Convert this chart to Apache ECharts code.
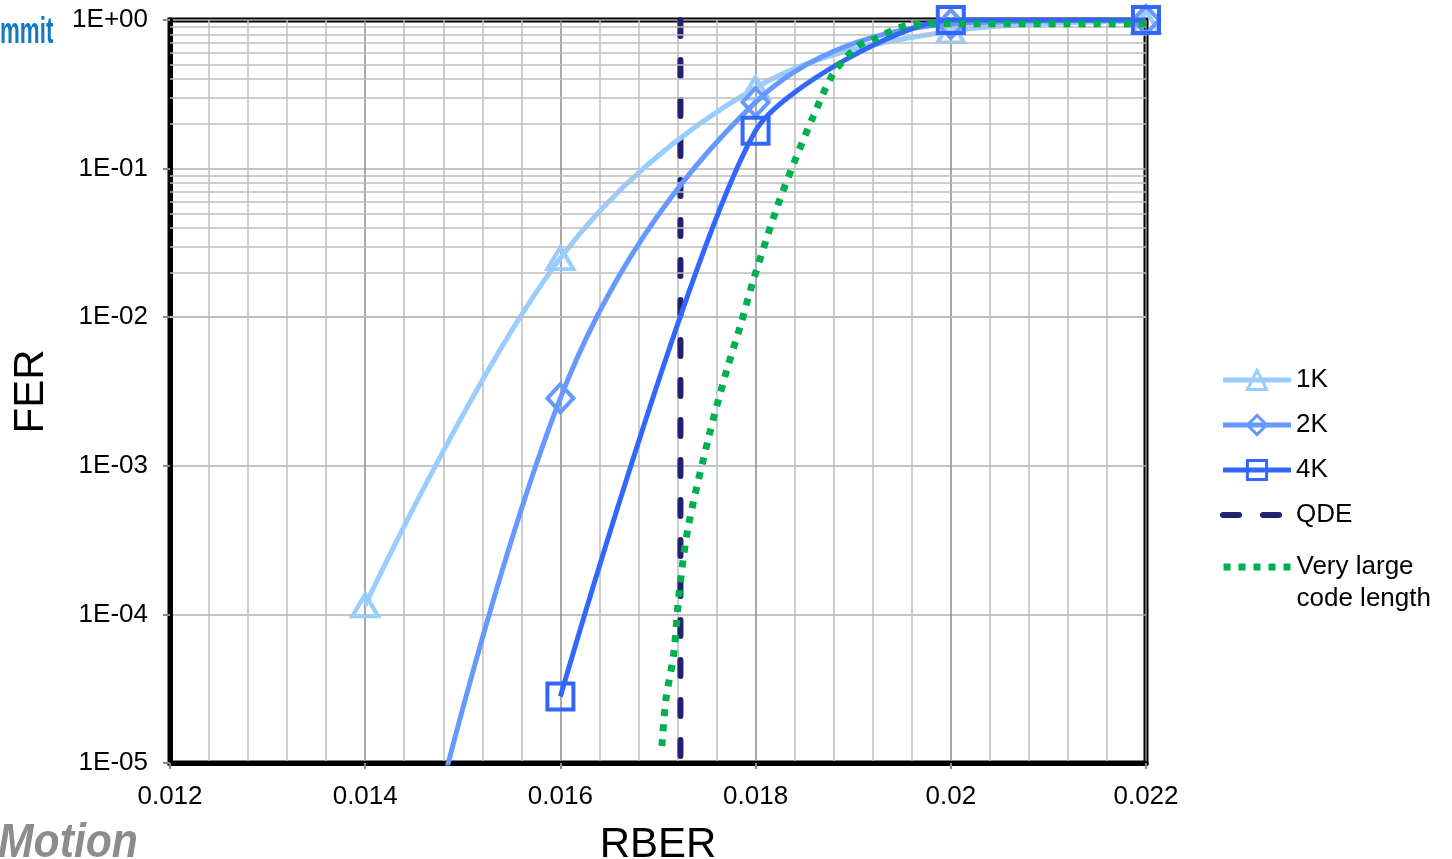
<!DOCTYPE html>
<html><head><meta charset="utf-8">
<script src="https://cdn.jsdelivr.net/npm/echarts@6/dist/echarts.min.js"></script>
<style>html,body{margin:0;padding:0;background:#fff;overflow:hidden}#c{width:1452px;height:859px}</style>
</head><body><div id="c"></div>
<script>
// ---- data ----
const xTickLabels = ['0.012', '0.014', '0.016', '0.018', '0.02', '0.022'];
const yTickLabels = ['1E-05', '1E-04', '1E-03', '1E-02', '1E-01', '1E+00'];

const rber1K = [0.014, 0.016, 0.018, 0.020, 0.022];
const fer1K  = [1.15e-4, 0.025, 0.35, 0.84, 0.98];

const rber2K = [0.014, 0.016, 0.018, 0.020, 0.022];
const fer2K  = [5e-8, 2.85e-3, 0.28, 0.94, 1.0];

const rber4K = [0.016, 0.018, 0.020, 0.022];
const fer4K  = [2.8e-5, 0.18, 1.0, 1.0];

const rberQDE = [0.01723, 0.01723];
const ferQDE  = [1, 1e-5];

const rberLarge = [0.01704, 0.01708, 0.01716, 0.01722, 0.01731, 0.01753, 0.01770, 0.01784, 0.01798, 0.01822, 0.01839, 0.01859, 0.01880, 0.01904, 0.01920, 0.01960, 0.02000, 0.02100, 0.02214];
const ferLarge  = [1.3e-5, 2.65e-5, 5.4e-5, 1.46e-4, 3.9e-4, 1.66e-3, 4.3e-3, 8.6e-3, 1.8e-2, 5.5e-2, 0.108, 0.224, 0.44, 0.66, 0.74, 0.93, 0.945, 0.945, 0.945];

const seriesNames = ['1K', '2K', '4K', 'QDE', 'Very large code length'];

// ---- helpers ----
const zip = (xs, ys) => xs.map((x, i) => [x, ys[i]]);
const X_MIN = 0.012, X_MAX = 0.022, X_INT = 0.002;
const Y_MIN = 1e-5, Y_MAX = 1;
const minorY = [];
for (let e = -5; e < 0; e++) for (let k = 2; k <= 9; k++) minorY.push(k * Math.pow(10, e));

const FONT = "'Liberation Sans', Arial, sans-serif";
const C1 = '#99CCFF', C2 = '#6699FF', C4 = '#3366FF', CQ = '#22236E', CG = '#00B050';
const LW = 5, BW = 4;

const chart = echarts.init(document.getElementById('c'), null, {renderer: 'canvas'});

const hollow = (c) => ({color: 'rgba(0,0,0,0)', borderColor: c, borderWidth: BW});
const legText = {fontFamily: FONT, fontSize: 26, color: '#000', lineHeight: 30};

const option = {
  animation: false,
  backgroundColor: '#fff',
  grid: {left: 170, right: 306, top: 20, bottom: 96, containLabel: false, outerBoundsMode: 'none',
         show: true, borderColor: '#000', borderWidth: 5, backgroundColor: 'rgba(0,0,0,0)'},
  xAxis: {
    type: 'value', min: X_MIN, max: X_MAX, interval: X_INT,
    name: 'RBER', nameLocation: 'middle', nameGap: 61,
    nameTextStyle: {fontFamily: FONT, fontSize: 42, color: '#000'},
    axisLine: {show: true, lineStyle: {color: '#000', width: 5}},
    axisTick: {show: true, length: 6, lineStyle: {color: '#888', width: 2}},
    axisLabel: {fontFamily: FONT, fontSize: 26, color: '#000', margin: 21,
      formatter: (v) => xTickLabels[Math.round((v - X_MIN) / X_INT)] || ''},
    splitLine: {show: true, lineStyle: {color: '#8c8c8c', width: 1.5}},
    minorTick: {show: false, splitNumber: 5},
    minorSplitLine: {show: true, lineStyle: {color: '#bdbdbd', width: 1.5}}
  },
  yAxis: {
    type: 'log', logBase: 10, min: Y_MIN, max: Y_MAX,
    name: 'FER', nameLocation: 'middle', nameGap: 118, nameRotate: 90,
    nameTextStyle: {fontFamily: FONT, fontSize: 42, color: '#000'},
    axisLine: {show: true, lineStyle: {color: '#000', width: 5}},
    axisTick: {show: true, length: 7, lineStyle: {color: '#888', width: 2}},
    axisLabel: {fontFamily: FONT, fontSize: 26, color: '#000', margin: 22,
      formatter: (v) => yTickLabels[Math.round(Math.log10(v)) + 5] || ''},
    splitLine: {show: true, lineStyle: {color: '#b0b0b0', width: 1.5}},
    minorSplitLine: {show: false}
  },
  legend: [
    {
      data: [
        {name: seriesNames[0], lineStyle: {width: LW}, itemStyle: {borderWidth: 3}},
        {name: seriesNames[1], lineStyle: {width: LW}, itemStyle: {borderWidth: 3}},
        {name: seriesNames[2], lineStyle: {width: LW}, itemStyle: {borderWidth: 3}},
        {name: seriesNames[3], lineStyle: {width: 6}, itemStyle: {color: 'rgba(0,0,0,0)', borderWidth: 0}}
      ],
      orient: 'vertical', left: 1220, top: 365, padding: 0,
      itemWidth: 68, itemHeight: 24, itemGap: 15,
      textStyle: legText,
      selectedMode: false
    },
    {
      data: [{name: seriesNames[4], lineStyle: {width: 7}, itemStyle: {color: 'rgba(0,0,0,0)', borderWidth: 0}}],
      orient: 'vertical', left: 1220, top: 519, padding: 0,
      itemWidth: 68, itemHeight: 24,
      formatter: () => '\nVery large\ncode length',
      textStyle: {fontFamily: FONT, fontSize: 26, color: '#000', lineHeight: 32},
      selectedMode: false
    }
  ],
  series: [
    {
      type: 'line', name: '_grid', data: [], silent: true, z: -1,
      markLine: {
        silent: true, symbol: 'none', label: {show: false}, animation: false,
        lineStyle: {color: '#bdbdbd', width: 1.5, type: 'solid'},
        emphasis: {disabled: true},
        data: minorY.map(v => ({yAxis: v}))
      }
    },
    {
      type: 'line', name: seriesNames[3], data: zip(rberQDE, ferQDE),
      symbol: 'none', z: 3,
      lineStyle: {color: CQ, width: 6, type: [16, 24], cap: 'round'},
      itemStyle: {color: 'rgba(0,0,0,0)', borderWidth: 0}
    },
    {
      type: 'line', name: seriesNames[0], data: zip(rber1K, fer1K), smooth: 0.35,
      symbol: 'triangle', symbolSize: [26, 22], z: 4,
      lineStyle: {color: C1, width: LW},
      itemStyle: hollow(C1)
    },
    {
      type: 'line', name: seriesNames[1], data: zip(rber2K, fer2K), smooth: 0.35,
      symbol: 'diamond', symbolSize: [26, 28], z: 5,
      lineStyle: {color: C2, width: LW},
      itemStyle: hollow(C2)
    },
    {
      type: 'line', name: seriesNames[2], data: zip(rber4K, fer4K), smooth: 0.22,
      symbol: 'rect', symbolSize: 26, z: 6,
      lineStyle: {color: C4, width: LW},
      itemStyle: hollow(C4)
    },
    {
      type: 'line', name: seriesNames[4], data: zip(rberLarge, ferLarge), smooth: 0.3,
      symbol: 'none', clip: false, z: 10,
      lineStyle: {color: CG, width: 7, type: [7, 8], cap: 'butt'},
      itemStyle: {color: 'rgba(0,0,0,0)', borderWidth: 0}
    }
  ],
  graphic: [
    {type: 'text', left: 0, top: 15, scaleX: 0.62, style: {text: 'mmit', font: "bold 36px 'Liberation Sans', Arial", fill: '#1279c4'}},
    {type: 'text', left: -2, top: 820, scaleX: 0.89, style: {text: 'Motion', font: "italic bold 48px 'Liberation Sans', Arial", fill: '#8c8c8c'}}
  ]
};
chart.setOption(option);
</script>
</body></html>
